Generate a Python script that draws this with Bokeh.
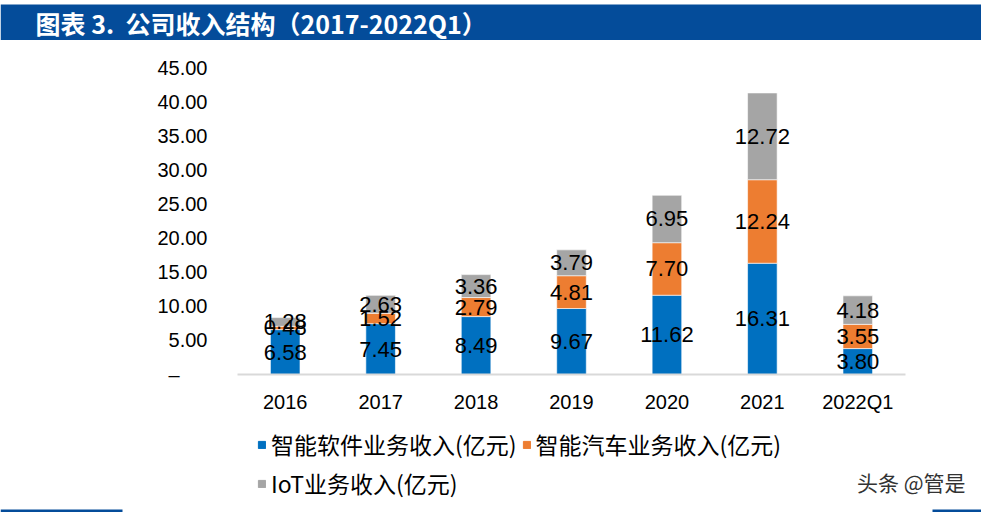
from bokeh.plotting import figure
from bokeh.layouts import column
from bokeh.models import (ColumnDataSource, Range1d, FixedTicker, NumeralTickFormatter,
                          LabelSet, Label, BoxAnnotation, Legend, LegendItem)
from bokeh.core.properties import value
from bokeh.embed import file_html
from bokeh.resources import INLINE

# ---------------- data ----------------
years = ["2016", "2017", "2018", "2019", "2020", "2021", "2022Q1"]
software = [6.58, 7.45, 8.49, 9.67, 11.62, 16.31, 3.80]
car = [0.48, 1.52, 2.79, 4.81, 7.70, 12.24, 3.55]
iot = [1.28, 2.63, 3.36, 3.79, 6.95, 12.72, 4.18]
series_names = ["智能软件业务收入(亿元)", "智能汽车业务收入(亿元)", "IoT业务收入(亿元)"]
y_ticks = [0, 5, 10, 15, 20, 25, 30, 35, 40, 45]
title_text = "图表 3.\u00a0\u00a0公司收入结构（2017-2022Q1）"
watermark = "头条 @管是"

colors = ["#0070C0", "#ED7D31", "#A5A5A5"]
keys = ["software", "car", "iot"]
BLUE = "#044C9A"
W = 981


def no_align(f):
    try:
        f.frame_align = False
    except Exception:
        pass


def blank_fig(h, xr=None):
    f = figure(width=W, height=h, x_range=xr if xr is not None else Range1d(0, 1),
               y_range=Range1d(0, 1), x_axis_type=None, y_axis_type=None,
               output_backend="svg", toolbar_location=None, min_border=0)
    f.outline_line_color = None
    f.xgrid.grid_line_color = None
    f.ygrid.grid_line_color = None
    no_align(f)
    return f


def screen_box(fig, l, r, b, t, color):
    fig.add_layout(BoxAnnotation(left=l, right=r, top=t, bottom=b,
                                 left_units="screen", right_units="screen",
                                 top_units="screen", bottom_units="screen",
                                 fill_color=color, fill_alpha=1, line_color=None))


# ---------------- banner ----------------
BH = 40
banner = blank_fig(BH)
screen_box(banner, 0, W, 0, BH - 4, BLUE)
banner.add_layout(Label(x=35, y=BH - 22, x_units="screen", y_units="screen",
                        text=title_text, text_font="Noto Sans CJK SC",
                        text_font_style="bold", text_font_size="25px",
                        text_color="white", text_baseline="middle"))

# ---------------- main chart ----------------
MH = 385
FL, FR, FT, FB = 237, 905, 27, 334
p = figure(x_range=years, y_range=Range1d(0, 45), width=W, height=MH,
           output_backend="svg", toolbar_location=None,
           min_border_left=FL, min_border_right=W - FR,
           min_border_top=FT, min_border_bottom=MH - FB)
no_align(p)
p.outline_line_color = None
p.xgrid.grid_line_color = None
p.ygrid.grid_line_color = None

src = ColumnDataSource(dict(years=years, software=software, car=car, iot=iot))
rs = p.vbar_stack(keys, x="years", width=0.31, source=src, color=colors,
                  line_color="white", line_width=0.6)

b0 = [0.0] * len(years)
b1 = software
b2 = [a + b for a, b in zip(software, car)]
lx, ly, lt = [], [], []
for vals, base in [(software, b0), (car, b1), (iot, b2)]:
    for yr, v, b in zip(years, vals, base):
        lx.append(yr)
        ly.append(b + v / 2)
        lt.append(f"{v:.2f}")
lsrc = ColumnDataSource(dict(x=lx, y=ly, t=lt))
p.add_layout(LabelSet(x="x", y="y", text="t", source=lsrc, text_align="center",
                      text_baseline="middle", text_font_size=value("22px"),
                      text_font=value("Liberation Sans"), text_color="black"))

yax = p.yaxis[0]
yax.ticker = FixedTicker(ticks=y_ticks)
yax.formatter = NumeralTickFormatter(format="0.00")
yax.major_label_overrides = {0: "–\u00a0\u00a0\u00a0\u00a0\u00a0"}
yax.axis_line_color = None
yax.major_tick_line_color = None
yax.major_tick_out = 0
yax.major_tick_in = 0
yax.minor_tick_line_color = None
yax.major_label_standoff = 30
yax.major_label_text_font = "Liberation Sans"
yax.major_label_text_font_size = "20px"
yax.major_label_text_color = "black"

xax = p.xaxis[0]
xax.axis_line_color = "#D9D9D9"
xax.axis_line_width = 2
xax.major_tick_line_color = None
xax.major_tick_out = 0
xax.major_tick_in = 0
xax.minor_tick_line_color = None
xax.major_label_standoff = 16
xax.major_label_text_font = "Liberation Sans"
xax.major_label_text_font_size = "20px"
xax.major_label_text_color = "black"

# ---------------- footer: legend, watermark, rules ----------------
FH = 87
foot = blank_fig(FH, xr=years)
foot.y_range = Range1d(-2, -1)
sw = foot.vbar_stack(keys, x="years", width=0.31, source=src, color=colors)
for r in sw:
    r.visible = False
legend = Legend(items=[LegendItem(label=n, renderers=[r]) for n, r in zip(series_names, sw)],
                location=(257, 12), orientation="horizontal", ncols=2,
                padding=0, margin=0, spacing=5, label_standoff=5,
                glyph_width=9, glyph_height=9, label_height=26,
                label_text_font="Noto Sans CJK SC", label_text_font_size="23px",
                label_text_color="black", background_fill_alpha=0,
                inactive_fill_alpha=0, border_line_color=None)
foot.add_layout(legend, "center")
foot.add_layout(Label(x=965, y=31, x_units="screen", y_units="screen",
                      text=watermark, text_font="Noto Sans CJK SC",
                      text_font_size="21px", text_color="#333333",
                      text_baseline="middle", text_align="right"))
screen_box(foot, 0, 122, 0, 3, BLUE)
screen_box(foot, 932, W, 0, 3, BLUE)

layout = column(banner, p, foot, spacing=0)
open("out.html", "w").write(file_html(layout, INLINE))
